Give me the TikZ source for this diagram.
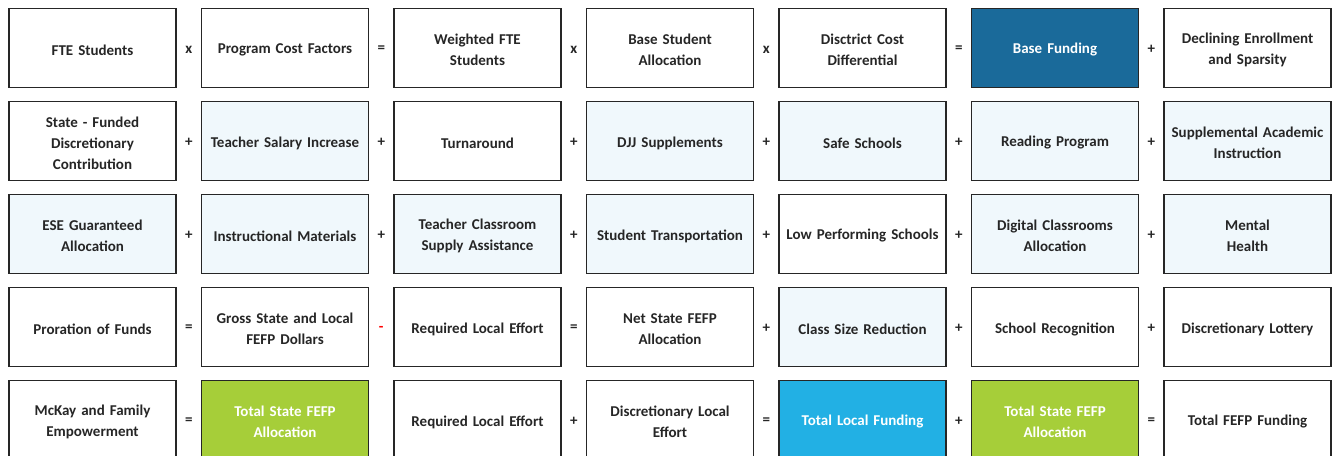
\documentclass[tikz,border=0pt]{standalone}
\usepackage{fontspec}
\setmainfont{Carlito}
\definecolor{lightfill}{HTML}{F0F8FC}
\definecolor{basefill}{HTML}{1A6A9A}
\definecolor{localfill}{HTML}{22B0E4}
\definecolor{greenfill}{HTML}{A6CE39}
\definecolor{boxline}{HTML}{262626}
\newcommand\mybox[5]{%
  \node[cell,#4] (#1) at ({9+192.5*(#2-1)+83.5},{8+93*(#3-1)+40}) {};
  \node[celltext,#4t] (#1t) at ([yshift=-2pt]#1.center) {#5};}
\newcommand\myop[5]{%
  \node[opsign,#4] (#1) at ({9+192.5*(#2-1)+167+12.75},{8+93*(#3-1)+41.5}) {#5};}
\begin{document}
\begin{tikzpicture}[x=1pt,y=-1pt,
  cell/.style={draw=boxline,line width=1.8pt,fill=white,minimum width=167pt,minimum height=79pt,
    inner sep=0pt},
  celltext/.style={inner sep=0pt,align=center,text width=166pt,
    font=\fontsize{15}{21}\selectfont\bfseries,text=black!85},
  light/.style={fill=lightfill},
  lightt/.style={},
  plain/.style={},
  plaint/.style={},
  basec/.style={fill=basefill},
  basect/.style={text=white},
  localc/.style={fill=localfill},
  localct/.style={text=white},
  greenc/.style={fill=greenfill},
  greenct/.style={text=white},
  opsign/.style={inner sep=0pt,font=\fontsize{15}{17}\selectfont\bfseries,text=black!85},
  redop/.style={text=red}]
\useasboundingbox (0,0) rectangle (1335,455);
\clip (0,0) rectangle (1335,455);
% Row 1
\mybox{a1}{1}{1}{plain}{FTE Students}
\mybox{a2}{2}{1}{plain}{Program Cost Factors}
\mybox{a3}{3}{1}{plain}{Weighted FTE\\Students}
\mybox{a4}{4}{1}{plain}{Base Student\\Allocation}
\mybox{a5}{5}{1}{plain}{Disctrict Cost\\Differential}
\mybox{a6}{6}{1}{basec}{Base Funding}
\mybox{a7}{7}{1}{plain}{Declining Enrollment\\and Sparsity}
\myop{oa1}{1}{1}{plain}{x}
\myop{oa2}{2}{1}{plain}{=}
\myop{oa3}{3}{1}{plain}{x}
\myop{oa4}{4}{1}{plain}{x}
\myop{oa5}{5}{1}{plain}{=}
\myop{oa6}{6}{1}{plain}{+}
% Row 2
\mybox{b1}{1}{2}{plain}{State - Funded\\Discretionary\\Contribution}
\mybox{b2}{2}{2}{light}{Teacher Salary Increase}
\mybox{b3}{3}{2}{plain}{Turnaround}
\mybox{b4}{4}{2}{light}{DJJ Supplements}
\mybox{b5}{5}{2}{light}{Safe Schools}
\mybox{b6}{6}{2}{light}{Reading Program}
\mybox{b7}{7}{2}{light}{Supplemental Academic\\Instruction}
\myop{ob1}{1}{2}{plain}{+}
\myop{ob2}{2}{2}{plain}{+}
\myop{ob3}{3}{2}{plain}{+}
\myop{ob4}{4}{2}{plain}{+}
\myop{ob5}{5}{2}{plain}{+}
\myop{ob6}{6}{2}{plain}{+}
% Row 3
\mybox{c1}{1}{3}{light}{ESE Guaranteed\\Allocation}
\mybox{c2}{2}{3}{light}{Instructional Materials}
\mybox{c3}{3}{3}{light}{Teacher Classroom\\Supply Assistance}
\mybox{c4}{4}{3}{light}{Student Transportation}
\mybox{c5}{5}{3}{plain}{Low Performing Schools}
\mybox{c6}{6}{3}{light}{Digital Classrooms\\Allocation}
\mybox{c7}{7}{3}{light}{Mental\\Health}
\myop{oc1}{1}{3}{plain}{+}
\myop{oc2}{2}{3}{plain}{+}
\myop{oc3}{3}{3}{plain}{+}
\myop{oc4}{4}{3}{plain}{+}
\myop{oc5}{5}{3}{plain}{+}
\myop{oc6}{6}{3}{plain}{+}
% Row 4
\mybox{d1}{1}{4}{plain}{Proration of Funds}
\mybox{d2}{2}{4}{plain}{Gross State and Local\\FEFP Dollars}
\mybox{d3}{3}{4}{plain}{Required Local Effort}
\mybox{d4}{4}{4}{plain}{Net State FEFP\\Allocation}
\mybox{d5}{5}{4}{light}{Class Size Reduction}
\mybox{d6}{6}{4}{plain}{School Recognition}
\mybox{d7}{7}{4}{plain}{Discretionary Lottery}
\myop{od1}{1}{4}{plain}{=}
\myop{od2}{2}{4}{redop}{-}
\myop{od3}{3}{4}{plain}{=}
\myop{od4}{4}{4}{plain}{+}
\myop{od5}{5}{4}{plain}{+}
\myop{od6}{6}{4}{plain}{+}
% Row 5
\mybox{e1}{1}{5}{plain}{McKay and Family\\Empowerment}
\mybox{e2}{2}{5}{greenc}{Total State FEFP\\Allocation}
\mybox{e3}{3}{5}{plain}{Required Local Effort}
\mybox{e4}{4}{5}{plain}{Discretionary Local\\Effort}
\mybox{e5}{5}{5}{localc}{Total Local Funding}
\mybox{e6}{6}{5}{greenc}{Total State FEFP\\Allocation}
\mybox{e7}{7}{5}{plain}{Total FEFP Funding}
\myop{oe1}{1}{5}{plain}{=}
\myop{oe3}{3}{5}{plain}{+}
\myop{oe4}{4}{5}{plain}{=}
\myop{oe5}{5}{5}{plain}{+}
\myop{oe6}{6}{5}{plain}{=}
\end{tikzpicture}
\end{document}
